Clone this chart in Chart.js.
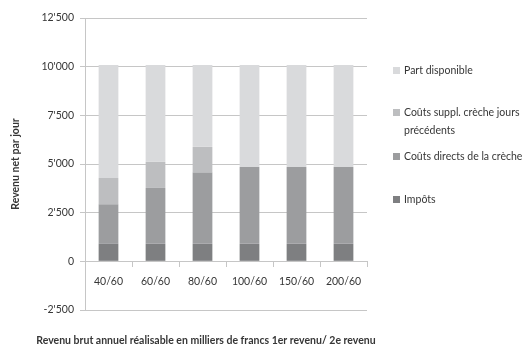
<!DOCTYPE html>
<html lang="fr">
<head>
    <meta charset="UTF-8">
    <title>Revenu net par jour</title>
    <script src="https://cdn.jsdelivr.net/npm/chart.js"></script>
    <style>
        html, body { margin: 0; padding: 0; background: #fff; }
        #wrap { width: 532px; height: 352px; }
    </style>
</head>
<body>
    <div id="wrap"><canvas id="myChart"></canvas></div>

    <script>
        // categories (1er revenu / 2e revenu)
        const categories = ['40/60', '60/60', '80/60', '100/60', '150/60', '200/60'];

        // series values
        const impots = [900, 900, 900, 900, 900, 900];
        const coutsDirects = [2030, 2870, 3660, 3950, 3950, 3950];
        const coutsSuppl = [1350, 1340, 1320, 0, 0, 0];
        const partDisponible = [5800, 4970, 4200, 5230, 5230, 5230];

        const yTicks = [-2500, 0, 2500, 5000, 7500, 10000, 12500];

        const FONT = 'Lato, "Open Sans", sans-serif';
        const TEXT = '#363636';
        const GRID = '#c6c6c6';

        function fmt(v) {
            const s = String(Math.abs(v)).replace(/\B(?=(\d{3})+(?!\d))/g, "'");
            return (v < 0 ? '-' : '') + s;
        }

        // legend on the right, top-down in reverse stack order, with wrapped text
        const sideLegend = {
            id: 'sideLegend',
            afterDraw(chart) {
                const c = chart.ctx;
                const items = [
                    { ds: 3, lines: ['Part disponible'], y: 71 },
                    { ds: 2, lines: ['Coûts suppl. crèche jours', 'précédents'], y: 113 },
                    { ds: 1, lines: ['Coûts directs de la crèche'], y: 157 },
                    { ds: 0, lines: ['Impôts'], y: 200 }
                ];
                c.save();
                c.font = '10.5px ' + FONT;
                c.textBaseline = 'middle';
                c.textAlign = 'left';
                items.forEach(it => {
                    c.fillStyle = chart.data.datasets[it.ds].backgroundColor;
                    c.fillRect(393, it.y - 4, 7, 7);
                    c.fillStyle = TEXT;
                    it.lines.forEach((l, i) => c.fillText(l, 404, it.y + i * 18));
                });
                // x axis title
                c.font = 'bold 10.5px ' + FONT;
                c.textAlign = 'center';
                c.fillText('Revenu brut annuel réalisable en milliers de francs 1er revenu/ 2e revenu', 206, 341);
                c.restore();
            }
        };

        const ctx = document.getElementById('myChart').getContext('2d');

        const myChart = new Chart(ctx, {
            type: 'bar',
            data: {
                labels: categories,
                datasets: [
                    { label: 'Impôts', data: impots, backgroundColor: '#7e7f81' },
                    { label: 'Coûts directs de la crèche', data: coutsDirects, backgroundColor: '#9c9d9f' },
                    { label: 'Coûts suppl. crèche jours précédents', data: coutsSuppl, backgroundColor: '#bdbec0' },
                    { label: 'Part disponible', data: partDisponible, backgroundColor: '#d9dadc' }
                ]
            },
            options: {
                responsive: true,
                maintainAspectRatio: false,
                animation: false,
                datasets: {
                    bar: { categoryPercentage: 1, barPercentage: 0.42 }
                },
                layout: { padding: { top: 18, right: 165, bottom: 42, left: 0 } },
                plugins: {
                    legend: { display: false },
                    tooltip: { enabled: false }
                },
                scales: {
                    x: {
                        stacked: true,
                        position: { y: 0 },
                        grid: {
                            offset: true,
                            drawOnChartArea: false,
                            drawTicks: true,
                            tickLength: 5,
                            color: GRID
                        },
                        border: { display: true, color: GRID },
                        ticks: {
                            color: TEXT,
                            padding: 9,
                            font: { family: FONT, size: 10.5 }
                        }
                    },
                    y: {
                        stacked: true,
                        min: yTicks[0],
                        max: yTicks[yTicks.length - 1],
                        afterBuildTicks(scale) {
                            scale.ticks = yTicks.map(v => ({ value: v }));
                        },
                        afterFit(scale) { scale.width = 85; },
                        grid: { color: GRID, tickLength: 5 },
                        border: { display: true, color: GRID },
                        ticks: {
                            color: TEXT,
                            padding: 6,
                            font: { family: FONT, size: 10.5 },
                            callback: v => fmt(v)
                        },
                        title: {
                            display: true,
                            text: 'Revenu net par jour',
                            color: TEXT,
                            padding: { top: 9, bottom: 0 },
                            font: { family: FONT, size: 10.5, weight: 'bold' }
                        }
                    }
                }
            },
            plugins: [sideLegend]
        });
    </script>
</body>
</html>
